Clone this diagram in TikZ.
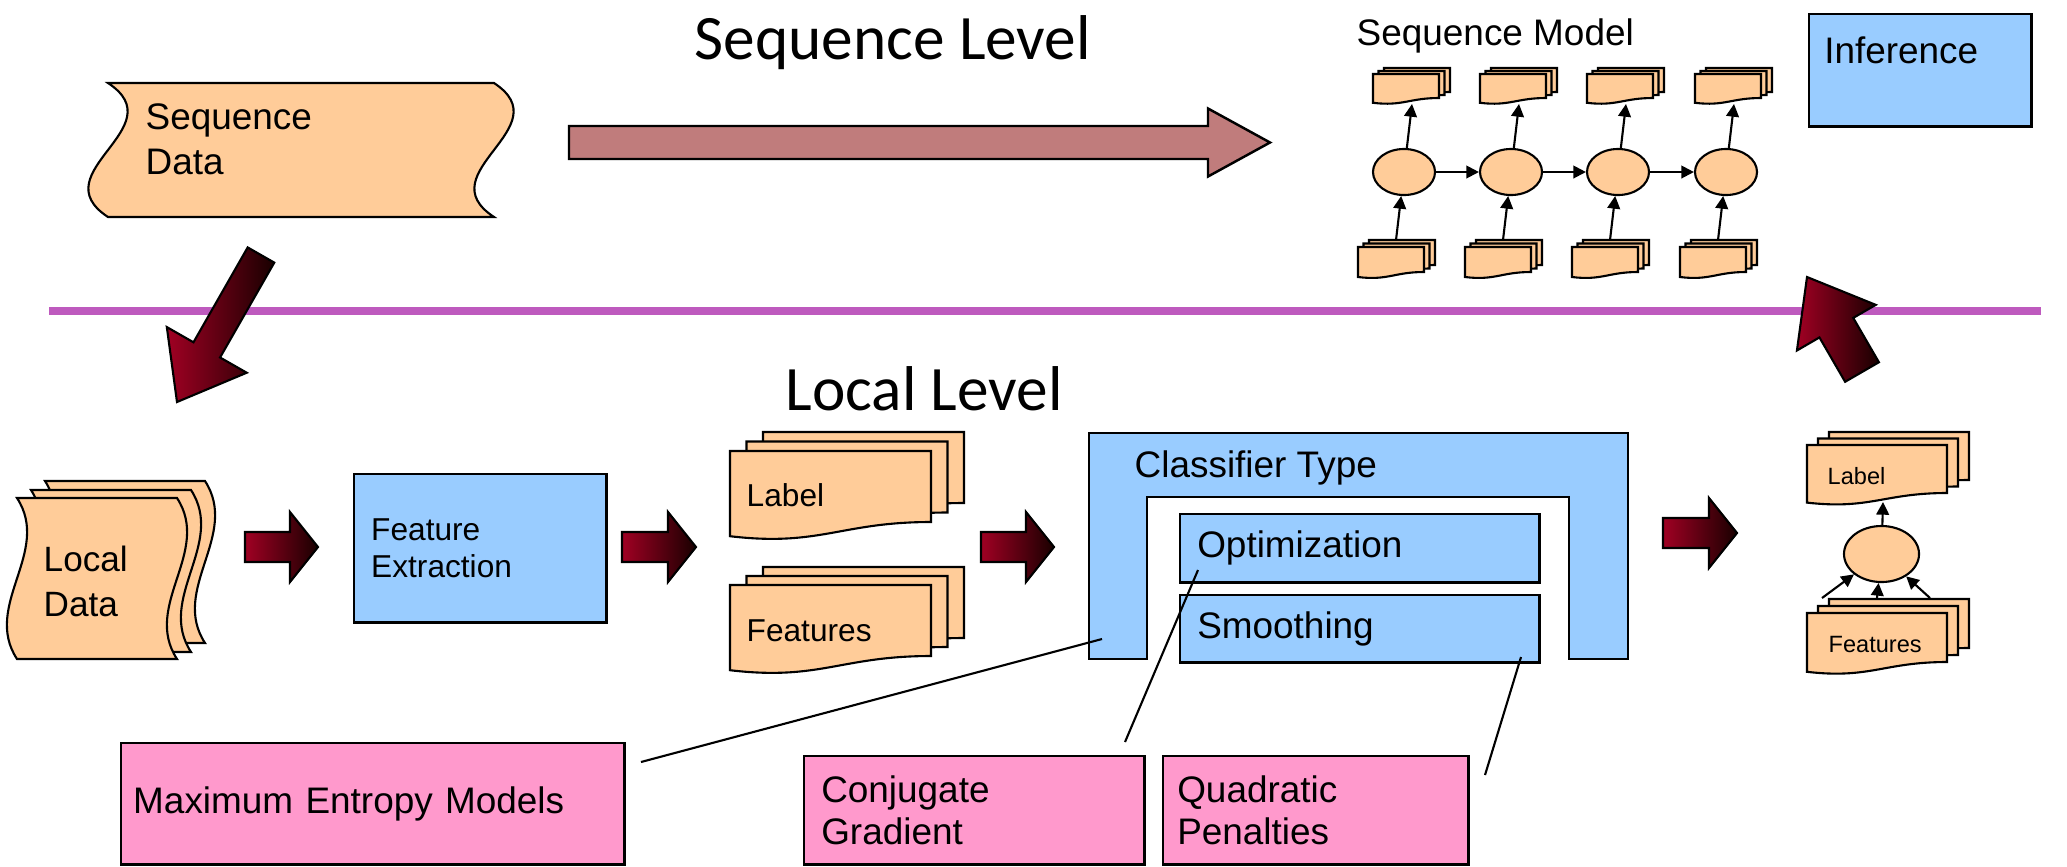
\documentclass[tikz,border=0pt]{standalone}
\usepackage{fontspec}
\setmainfont{Liberation Sans}
\newfontfamily\titlefont{Carlito}
\usepackage{xcolor}
\usetikzlibrary{shapes.geometric,arrows.meta,calc,positioning}

\definecolor{docfill}{RGB}{255,204,153}
\definecolor{boxblue}{RGB}{153,204,255}
\definecolor{boxpink}{RGB}{255,153,204}
\definecolor{levelline}{RGB}{190,90,190}
\definecolor{seqpink}{RGB}{192,124,124}
\definecolor{arrred}{RGB}{160,0,35}
\definecolor{arrdark}{RGB}{25,0,0}

% sheet with a wavy bottom edge; top-left corner, width, height
\newcommand{\docsheet}[4]{%
  \begin{scope}[shift={(#1,#2)}]
    \filldraw[sheet] (0,0) -- (#3,0) -- (#3,#4)
      .. controls (0.55*#3,#4) and (0.45*#3,1.35*#4) .. (0,1.2*#4) -- cycle;
  \end{scope}}
% three sheets, front one at #1,#2
\newcommand{\docstack}[6]{%
  \docsheet{#1+2*#5}{#2-2*#6}{#3}{#4}
  \docsheet{#1+#5}{#2-#6}{#3}{#4}
  \docsheet{#1}{#2}{#3}{#4}}
% sheet with wavy left and right edges
\newcommand{\tapesheet}[5]{%
  \begin{scope}[shift={(#1,#2)}]
    \filldraw[sheet] (0,0) -- (#3,0)
      .. controls (#3+#5,#4/3) and (#3-#5,2*#4/3) .. (#3,#4) -- (0,#4)
      .. controls (-#5,2*#4/3) and (#5,#4/3) .. (0,0) -- cycle;
  \end{scope}}
% block arrow: style, tail, tip, half shaft, half head, head length
\newcommand{\bigarrow}[6][]{%
  \coordinate (ba) at ($(#3)!#6!(#2)$);
  \path[#1] ($(#2)!#4!90:(#3)$) -- ($(ba)!#4!-90:(#2)$) -- ($(ba)!#5!-90:(#2)$) -- (#3)
    -- ($(ba)!#5!90:(#2)$) -- ($(ba)!#4!90:(#2)$) -- ($(#2)!#4!-90:(#3)$) -- cycle;}

\begin{document}
\begin{tikzpicture}[
    x=0.01cm, y=-0.01cm,
    sheet/.style={fill=docfill, draw=black, line width=0.6pt},
    bluebox/.style={rectangle, draw, line width=0.7pt, fill=boxblue,
                    anchor=north west, align=left, inner sep=0pt,
                    font=\fontsize{10.5}{12.8}\selectfont},
    pinkbox/.style={rectangle, draw, line width=0.7pt, fill=boxpink,
                    anchor=north west, align=left, inner sep=0pt,
                    font=\fontsize{10.5}{12}\selectfont},
    ushape/.style={fill=boxblue, draw=black, line width=0.7pt},
    txt/.style={font=\fontsize{10.5}{12.8}\selectfont, inner sep=0pt},
    txtlines/.style={font=\fontsize{10.5}{12.8}\selectfont, inner sep=0pt, align=left},
    txtnine/.style={font=\fontsize{9}{10.5}\selectfont, inner sep=0pt},
    txtsmall/.style={font=\fontsize{6.7}{8}\selectfont, inner sep=0pt},
    leveltitle/.style={font=\titlefont\fontsize{18}{22}\selectfont,
                       inner sep=0pt, anchor=base west},
    seqnode/.style={ellipse, draw, fill=docfill, line width=0.6pt,
                    minimum width=0.62cm, minimum height=0.46cm, inner sep=0pt},
    clsnode/.style={ellipse, draw, fill=docfill, line width=0.6pt,
                    minimum width=0.75cm, minimum height=0.56cm, inner sep=0pt},
    seqarr/.style={-{Triangle[length=3.6pt,width=3.6pt]}, line width=0.6pt},
    sepline/.style={levelline, line width=2.3pt},
    bigarr/.style={left color=arrred, right color=arrdark, draw=black, line width=0.6pt},
    seqbig/.style={fill=seqpink, draw=black, line width=0.7pt},
    leaderline/.style={line width=0.6pt},
  ]
  \useasboundingbox (0,0) rectangle (2067,866);

  % === level separator ===
  \coordinate (sep-l) at (49,311);
  \coordinate (sep-r) at (2041,311);
  \draw[sepline] (sep-l) -- (sep-r);

  \node[leveltitle] (seqlvl) at (694,59) {Sequence Level};
  \node[leveltitle] (loclvl) at (785,410) {Local Level};

  % === Sequence level ===
  \tapesheet{108}{83}{386}{134}{68}
  \node[txtlines, anchor=north west] (seqdata) at (145,103) {Sequence\\Data};

  \coordinate (sa-tail) at (569,142.5);
  \coordinate (sa-tip) at (1270,142.5);
  \bigarrow[seqbig]{sa-tail}{sa-tip}{0.165cm}{0.34cm}{0.62cm}

  \node[txt, anchor=base west] (seqmodel) at (1356,45) {Sequence Model};
  \node[bluebox, text width=1.92cm, inner xsep=0.15cm, inner ysep=0pt,
        text height=0.49cm, text depth=0.63cm] (infer) at (1808,13) {Inference};

  % chain of states
  \foreach \x [count=\i] in {1404,1511,1618,1726} {
    \docstack{\x-31}{74}{66}{24}{5.5}{3}
    \docstack{\x-46}{247}{66}{25}{5.5}{3.5}
    \node[seqnode] (s\i) at (\x,172) {};
    \coordinate (t\i) at (\x+8,104);
    \coordinate (b\i) at (\x-8,240);
    \draw[seqarr] (s\i) -- (t\i);
    \draw[seqarr] (b\i) -- (s\i);
  }
  \foreach \i/\j in {1/2,2/3,3/4} \draw[seqarr] (s\i) -- (s\j);

  % between the levels
  \coordinate (dl-tail) at (261,255);
  \coordinate (dl-tip) at (177,402);
  \bigarrow[bigarr]{dl-tail}{dl-tip}{0.153cm}{0.46cm}{0.60cm}
  \coordinate (up-tail) at (1862,372);
  \coordinate (up-tip) at (1807,277);
  \bigarrow[bigarr]{up-tail}{up-tip}{0.195cm}{0.455cm}{0.585cm}

  % === Local level ===
  \tapesheet{45}{481}{160}{162}{35}
  \tapesheet{31}{490}{160}{162}{35}
  \tapesheet{17}{498}{160}{161}{35}
  \node[inner sep=0pt, align=left, font=\fontsize{10}{13}\selectfont, anchor=north west]
    (locdata) at (43,545) {Local\\Data};

  \foreach \xa/\xb/\yy [count=\k] in {245/318/547, 622/696/547, 981/1054/547, 1663/1737/533} {
    \coordinate (st\k-tail) at (\xa,\yy);
    \coordinate (st\k-tip) at (\xb,\yy);
    \bigarrow[bigarr]{st\k-tail}{st\k-tip}{0.15cm}{0.35cm}{0.28cm}
  }

  \node[bluebox, minimum width=2.52cm, minimum height=1.48cm, text width=2.18cm,
        inner xsep=0.17cm, font=\fontsize{9}{10.5}\selectfont] (featx) at (353,473)
    {Feature\\Extraction};

  \docstack{730}{451}{201}{71}{16.5}{9.5}
  \node[txtnine, anchor=base west] (lbl) at (746,506) {Label};
  \docstack{730}{585}{201}{71}{16.5}{9}
  \node[txtnine, anchor=base west] (feats) at (746,641) {Features};

  % classifier
  \filldraw[ushape] (1089,433) -- (1628,433) -- (1628,659) -- (1569,659) -- (1569,497)
    -- (1147,497) -- (1147,659) -- (1089,659) -- cycle;
  \node[txt, anchor=base west] (ctype) at (1134,477) {Classifier Type};
  \node[bluebox, minimum width=3.59cm, minimum height=0.68cm, text width=3.25cm,
        inner xsep=0.17cm] (optim) at (1179,513) {Optimization};
  \node[bluebox, minimum width=3.59cm, minimum height=0.67cm, text width=3.25cm,
        inner xsep=0.17cm] (smooth) at (1179,594) {Smoothing};

  % local model
  \docstack{1807}{445}{140}{48}{11}{6.5}
  \node[txtsmall, anchor=base west] (lbl2) at (1827,484) {Label};
  \node[clsnode] (cls) at (1881.5,554) {};
  \docstack{1807}{613}{140}{49}{11}{7}
  \node[txtsmall, anchor=base west] (feats2) at (1828,652) {Features};
  \coordinate (f1) at (1822,598);
  \coordinate (f2) at (1877,598);
  \coordinate (f3) at (1930,598);
  \coordinate (lb2) at (1883,502);
  \foreach \f in {f1,f2,f3} \draw[seqarr] (\f) -- (cls);
  \draw[seqarr] (cls) -- (lb2);

  % === choices ===
  \node[pinkbox, minimum width=5.03cm, minimum height=1.21cm, text width=4.79cm,
        inner xsep=0.12cm] (maxent) at (120,742) {Maximum Entropy Models};
  \node[pinkbox, minimum width=3.40cm, minimum height=1.08cm, text width=3.06cm,
        inner xsep=0.17cm] (conj) at (803,755) {Conjugate\\Gradient};
  \node[pinkbox, minimum width=3.05cm, minimum height=1.08cm, text width=2.77cm,
        inner xsep=0.14cm] (quad) at (1162,755) {Quadratic\\Penalties};

  \coordinate (me-pin) at (641,762);
  \coordinate (me-end) at (1102,639);
  \coordinate (cg-pin) at (1125,742);
  \coordinate (cg-end) at (1198,570);
  \coordinate (qp-pin) at (1485,775);
  \coordinate (qp-end) at (1521,657);
  \draw[leaderline] (me-pin) -- (me-end);
  \draw[leaderline] (cg-pin) -- (cg-end);
  \draw[leaderline] (qp-pin) -- (qp-end);

\end{tikzpicture}
\end{document}
